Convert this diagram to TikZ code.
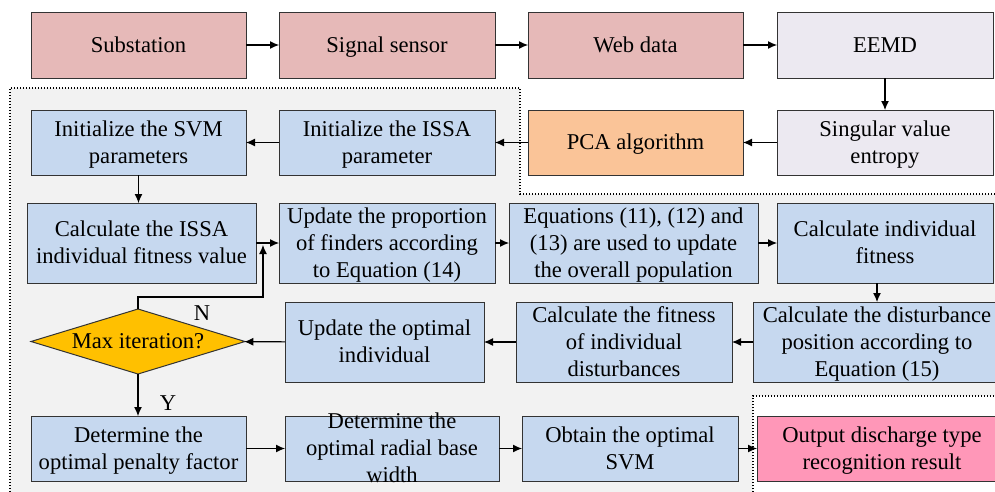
\documentclass[tikz,border=0pt]{standalone}
\usepackage{fontspec}
\setmainfont{Liberation Serif}
\usetikzlibrary{arrows.meta,shapes.geometric,calc}

\definecolor{srcpink}{HTML}{E6B9B8}
\definecolor{featlav}{HTML}{ECE9F1}
\definecolor{pcaorange}{HTML}{FAC498}
\definecolor{stepblue}{HTML}{C6D8EF}
\definecolor{decgold}{HTML}{FFC000}
\definecolor{outpink}{HTML}{FF97B8}
\definecolor{bggray}{HTML}{F2F2F2}

% struts at both ends keep one-line and multi-line labels on one baseline grid
\newcommand{\lblstrut}{\rule[-5pt]{0pt}{24pt}}
\newcommand{\lbl}[1]{\lblstrut#1\lblstrut}

\begin{document}
\begin{tikzpicture}[x=1pt,y=-1pt,
  txt/.style={font=\fontsize{22.6}{27}\selectfont},
  box/.style={txt, draw=black!80, line width=1pt, rectangle, align=center,
    inner sep=0pt, outer sep=0pt},
  srcbox/.style={box, fill=srcpink},
  featbox/.style={box, fill=featlav},
  pcabox/.style={box, fill=pcaorange},
  stepbox/.style={box, fill=stepblue},
  outbox/.style={box, fill=outpink},
  decbox/.style={txt, draw=black!80, line width=1pt, shape=diamond, aspect=3.3,
    fill=decgold, inner sep=0pt, outer sep=0pt},
  arr/.style={line width=1.1pt, -{Latex[length=9pt,width=8pt]}},
  dotline/.style={line width=1.1pt, dash pattern=on 1.4pt off 1.6pt}]

\useasboundingbox (0,0) rectangle (995,491);
\clip (0,0) rectangle (995,491);

% background panels
\fill[white] (0,0) rectangle (995,491);
\fill[bggray] (10,88) -- (520,88) -- (520,194) -- (1000,194) -- (1000,396)
  -- (753,396) -- (753,495) -- (10,495) -- cycle;
\draw[dotline] (10,495) -- (10,88) -- (520,88) -- (520,194) -- (1000,194);
\draw[dotline] (753,495) -- (753,396) -- (1000,396);

% row 1
\node[srcbox, minimum width=215pt, minimum height=66pt] (sub) at (138.5,45) {\lbl{Substation}};
\node[srcbox, minimum width=216pt, minimum height=66pt] (sig) at (387,45) {\lbl{Signal sensor}};
\node[srcbox, minimum width=215pt, minimum height=66pt] (web) at (635.5,45) {\lbl{Web data}};
\node[featbox, minimum width=216pt, minimum height=66pt] (eemd) at (885,45) {\lbl{EEMD}};

% row 2
\node[stepbox, minimum width=215pt, minimum height=65pt] (isvm) at (138.5,142.5) {\lbl{Initialize the SVM\\parameters}};
\node[stepbox, minimum width=216pt, minimum height=65pt] (issa) at (387,142.5) {\lbl{Initialize the ISSA\\parameter}};
\node[pcabox, minimum width=215pt, minimum height=65pt] (pca) at (635.5,142.5) {\lbl{PCA algorithm}};
\node[featbox, minimum width=216pt, minimum height=65pt] (sve) at (885,142.5) {\lbl{Singular value\\entropy}};

% row 3
\node[stepbox, minimum width=229pt, minimum height=80pt] (cfit) at (141.5,243) {\lbl{Calculate the ISSA\\individual fitness value}};
\node[stepbox, minimum width=216pt, minimum height=80pt] (prop) at (387,243) {\lbl{Update the proportion\\of finders according\\to Equation (14)}};
\node[stepbox, minimum width=249pt, minimum height=80pt] (eqs) at (633.5,243) {\lbl{Equations (11), (12) and\\(13) are used to update\\the overall population}};
\node[stepbox, minimum width=216pt, minimum height=80pt] (ifit) at (885,243) {\lbl{Calculate individual\\fitness}};

% row 4
\node[decbox, minimum width=214pt, minimum height=65pt] (maxit) at (138,341.5) {\lbl{Max iteration?}};
\node[stepbox, minimum width=199pt, minimum height=80pt] (uopt) at (384.5,342) {\lbl{Update the optimal\\individual}};
\node[stepbox, minimum width=216pt, minimum height=80pt] (dfit) at (624,342) {\lbl{Calculate the fitness\\of individual\\disturbances}};
\node[stepbox, minimum width=248pt, minimum height=80pt] (dpos) at (877,342) {\lbl{Calculate the disturbance\\position according to\\Equation (15)}};

% row 5
\node[stepbox, minimum width=215pt, minimum height=65pt] (pen) at (138.5,448.5) {\lbl{Determine the\\optimal penalty factor}};
\node[stepbox, minimum width=214pt, minimum height=65pt] (rad) at (392,448.5) {};
\node[txt, align=center, inner sep=0pt] (radtxt) at (rad.center) {\lbl{Determine the\\optimal radial base\\width}};
\node[stepbox, minimum width=216pt, minimum height=65pt] (osvm) at (630,448.5) {\lbl{Obtain the optimal\\SVM}};
\node[outbox, minimum width=250pt, minimum height=65pt] (res) at (882,448.5) {\lbl{Output discharge type\\recognition result}};

% flow connectors
\draw[arr] (sub) -- (sig);
\draw[arr] (sig) -- (web);
\draw[arr] (web) -- (eemd);
\draw[arr] (eemd) -- (sve);
\draw[arr] (sve) -- (pca);
\draw[arr] (pca) -- (issa);
\draw[arr] (issa) -- (isvm);
\draw[arr] (isvm.south) -- (isvm.south |- cfit.north);
\draw[arr] (cfit) -- (prop);
\draw[arr] (prop) -- (eqs);
\draw[arr] (eqs) -- (ifit);
\draw[arr] (ifit.south -| dpos.north) -- (dpos.north);
\draw[arr] (dpos) -- (dfit);
\draw[arr] (dfit) -- (uopt);
\draw[arr] (uopt) -- (maxit);

% loop back when the iteration limit is not reached
\coordinate (loopin) at ($(cfit.east)!0.304!(prop.west)$);
\coordinate (loopup) at (loopin |- 0,297);
\draw[arr] (maxit.north) -- (maxit.north |- loopup) -- (loopup) -- ($(loopin)+(0,2)$);
\node[txt, inner sep=0pt] (nlab) at (202,313) {N};

% exit when the limit is reached
\draw[arr] (maxit.south) -- (maxit.south |- pen.north);
\node[txt, inner sep=0pt] (ylab) at (168,403) {Y};

\draw[arr] (pen) -- (rad);
\draw[arr] (rad) -- (osvm);
\draw[arr] (osvm) -- (res);
\end{tikzpicture}
\end{document}
